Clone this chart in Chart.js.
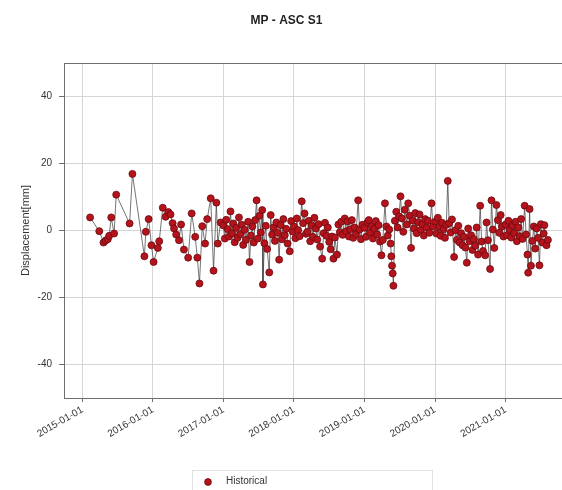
<!DOCTYPE html>
<html>
<head>
<meta charset="utf-8">
<script src="https://cdn.jsdelivr.net/npm/chart.js@4/dist/chart.umd.min.js"></script>
<style>
    html, body { margin: 0; padding: 0; background: #fff; overflow: hidden; }
    #wrap { width: 562px; height: 490px; overflow: hidden; }
</style>
</head>
<body>
<div id="wrap"><canvas id="mp-chart" width="576" height="490"></canvas></div>
<script>
// acquisition time as decimal year, displacement in mm
var t2015 = [2015.11, 2015.24, 2015.30, 2015.33, 2015.36, 2015.38, 2015.41, 2015.45, 2015.48, 2015.67, 2015.71, 2015.88, 2015.90, 2015.94, 2015.98];
var v2015 = [3.9, -0.2, -3.6, -3.0, -2.6, -1.6, 3.9, -0.9, 10.7, 2.1, 16.9, -7.7, -0.4, 3.4, -4.4];

var t2016 = [2016.01, 2016.07, 2016.09, 2016.14, 2016.18, 2016.22, 2016.25, 2016.28, 2016.30, 2016.33,
             2016.37, 2016.40, 2016.44, 2016.50, 2016.55, 2016.60, 2016.63, 2016.66, 2016.70, 2016.74,
             2016.77, 2016.82, 2016.86, 2016.90, 2016.92, 2016.96];
var v2016 = [-9.4, -5.2, -3.2, 6.8, 4.1, 5.5, 4.8, 2.2, 0.6, -1.2,
             -2.9, 1.8, -5.7, -8.1, 5.1, -1.9, -8.1, -15.8, 1.3, -3.9,
             3.4, 9.6, -12.0, 8.3, -3.9, 2.4];

var t2017 = [2017.00, 2017.02, 2017.04, 2017.06, 2017.08, 2017.10, 2017.12, 2017.14, 2017.16, 2017.18,
             2017.20, 2017.22, 2017.24, 2017.26, 2017.28, 2017.30, 2017.32, 2017.35, 2017.37, 2017.39,
             2017.41, 2017.43, 2017.45, 2017.47, 2017.49, 2017.51, 2017.53, 2017.55, 2017.56, 2017.58,
             2017.60, 2017.62, 2017.65, 2017.67, 2017.69, 2017.71, 2017.73, 2017.75, 2017.77, 2017.79,
             2017.81, 2017.83, 2017.85, 2017.87, 2017.89, 2017.91, 2017.94, 2017.96, 2017.98];
var v2017 = [1.5, -2.4, 3.2, 0.4, -1.8, 5.7, -0.9, 2.1, -3.5, 0.8,
             -2.2, 3.9, -1.1, 1.7, -4.3, 0.2, -2.8, 2.6, -9.4, -1.5,
             1.2, -3.6, 3.1, 9.0, -2.4, 4.4, -0.6, 6.1, -16.1, -3.8,
             1.4, -5.5, -12.5, 4.6, -1.2, 0.9, -3.1, 2.4, -0.7, -8.7,
             1.6, -2.6, 3.4, -1.4, 0.5, -3.9, -6.2, 2.8, -0.3];

var t2018 = [2018.00, 2018.02, 2018.04, 2018.06, 2018.08, 2018.11, 2018.13, 2018.15, 2018.17, 2018.19,
             2018.21, 2018.23, 2018.25, 2018.27, 2018.29, 2018.31, 2018.33, 2018.35, 2018.37, 2018.40,
             2018.42, 2018.44, 2018.46, 2018.48, 2018.50, 2018.52, 2018.54, 2018.56, 2018.58, 2018.61,
             2018.63, 2018.65, 2018.67, 2018.69, 2018.72, 2018.74, 2018.76, 2018.78, 2018.80, 2018.82,
             2018.84, 2018.86, 2018.88, 2018.91, 2018.93, 2018.95, 2018.97];
var v2018 = [1.2, -2.3, 3.6, 0.1, -1.7, 8.7, 2.2, 5.1, -1.0, -0.4,
             2.9, -3.2, 1.5, -1.9, 3.8, 0.6, -2.7, 1.9, -4.8, -8.4,
             -0.8, 2.3, -1.6, 0.9, -3.4, -5.6, -1.8, -8.4, -2.1, -7.2,
             1.8, -0.5, 2.6, -1.3, 3.6, -0.2, 2.7, -1.8, 0.4, 3.1,
             -2.2, 0.9, -1.1, 9.0, 0.3, -2.6, 1.7];

var t2019 = [2019.00, 2019.02, 2019.04, 2019.06, 2019.08, 2019.10, 2019.12, 2019.14, 2019.16, 2019.18,
             2019.20, 2019.22, 2019.24, 2019.26, 2019.29, 2019.31, 2019.33, 2019.35, 2019.37, 2019.38,
             2019.39, 2019.40, 2019.41, 2019.43, 2019.45, 2019.47, 2019.49, 2019.51, 2019.53, 2019.55,
             2019.57, 2019.60, 2019.62, 2019.64, 2019.66, 2019.68, 2019.70, 2019.72, 2019.74, 2019.76,
             2019.78, 2019.80, 2019.82, 2019.84, 2019.86, 2019.88, 2019.90, 2019.92, 2019.95, 2019.97];
var v2019 = [0.8, -1.9, 2.4, 3.1, -0.6, 1.3, -2.4, 0.5, 2.8, -1.2,
             1.6, -3.3, -7.4, -2.8, 8.1, 1.2, -1.5, 0.3, -3.9, -7.7,
             -10.5, -12.8, -16.5, 2.9, 5.6, 0.9, 4.2, 10.2, 3.6, -0.4,
             6.2, 1.8, 8.1, 4.4, -5.2, 3.0, 0.6, 5.2, -0.8, 2.5,
             4.8, 0.2, 1.9, -1.5, 3.4, 0.8, 2.9, -0.7, 8.1, 1.2];

var t2020 = [2020.00, 2020.02, 2020.04, 2020.06, 2020.08, 2020.10, 2020.12, 2020.14, 2020.16, 2020.18,
             2020.20, 2020.22, 2020.24, 2020.27, 2020.29, 2020.31, 2020.33, 2020.35, 2020.37, 2020.39,
             2020.41, 2020.43, 2020.45, 2020.47, 2020.49, 2020.51, 2020.53, 2020.55, 2020.57, 2020.59,
             2020.61, 2020.64, 2020.66, 2020.68, 2020.71, 2020.73, 2020.75, 2020.78, 2020.80, 2020.82,
             2020.84, 2020.87, 2020.89, 2020.91, 2020.93, 2020.95, 2020.97];
var v2020 = [2.6, -0.9, 3.8, 1.1, -1.6, 2.3, 0.4, -2.2, 1.7, 14.8,
             2.2, -0.6, 3.3, -7.9, 0.1, -2.8, 1.4, -3.6, -0.8, -4.4,
             -1.9, -5.1, -9.6, 0.6, -3.2, -1.4, -5.8, -2.6, -4.5, 0.9,
             -7.2, 7.4, -3.3, -6.1, -7.4, 2.4, -2.9, -11.5, 9.0, 0.3,
             -5.2, 7.6, 3.1, -0.7, 4.6, 1.2, -1.8];

var t2021 = [2021.00, 2021.02, 2021.04, 2021.06, 2021.08, 2021.10, 2021.12, 2021.14, 2021.16, 2021.18,
             2021.20, 2021.22, 2021.24, 2021.27, 2021.29, 2021.31, 2021.32, 2021.34, 2021.36, 2021.38,
             2021.40, 2021.42, 2021.44, 2021.46, 2021.48, 2021.50, 2021.52, 2021.54, 2021.55, 2021.58,
             2021.60];
var v2021 = [1.8, -1.4, 2.9, 0.2, -2.1, 1.4, -0.8, 2.6, -3.2, 0.9,
             -1.7, 3.4, -2.5, 7.4, -1.2, -7.2, -12.6, 6.4, -10.5, -3.1,
             1.2, -5.4, 0.6, -2.2, -10.4, 1.9, -3.6, -0.9, 1.6, -4.4,
             -2.8];

var xTickYears = [2015, 2016, 2017, 2018, 2019, 2020, 2021];
var xTickLabels = ['2015-01-01', '2016-01-01', '2017-01-01', '2018-01-01', '2019-01-01', '2020-01-01', '2021-01-01'];
var yTicks = [-40, -20, 0, 20, 40];

(function () {
    var font = "'Liberation Sans', Arial, sans-serif";
    var textColor = '#333333';
    var gridColor = '#d6d6d6';
    var spineColor = '#6f6f6f';

    var times = [].concat(t2015, t2016, t2017, t2018, t2019, t2020, t2021);
    var values = [].concat(v2015, v2016, v2017, v2018, v2019, v2020, v2021);
    var points = times.map(function (t, i) {
        return { x: t, y: values[i] };
    });

    // top/right spines like a matplotlib frame
    var frame = {
        id: 'frame',
        afterDatasetsDraw: function (chart) {
            var a = chart.chartArea;
            var ctx = chart.ctx;
            ctx.save();
            ctx.strokeStyle = spineColor;
            ctx.lineWidth = 1;
            ctx.strokeRect(a.left + 0.5, a.top + 0.5, a.right - a.left, a.bottom - a.top);
            ctx.restore();
        }
    };

    // boxed legend below the axes
    var legendBox = {
        id: 'legendBox',
        afterDraw: function (chart) {
            var ctx = chart.ctx;
            var a = chart.chartArea;
            var ds = chart.data.datasets[0];
            var x0 = a.left + 128;
            var y0 = chart.height - 20;
            ctx.save();
            ctx.fillStyle = '#ffffff';
            ctx.strokeStyle = '#e2e2e2';
            ctx.lineWidth = 1;
            ctx.fillRect(x0, y0, 240, 30);
            ctx.strokeRect(x0 + 0.5, y0 + 0.5, 240, 30);
            ctx.beginPath();
            ctx.arc(x0 + 16, y0 + 12, 3.4, 0, Math.PI * 2);
            ctx.fillStyle = ds.pointBackgroundColor;
            ctx.fill();
            ctx.lineWidth = 0.8;
            ctx.strokeStyle = ds.pointBorderColor;
            ctx.stroke();
            ctx.fillStyle = textColor;
            ctx.font = '10px ' + font;
            ctx.textBaseline = 'middle';
            ctx.fillText(ds.label, x0 + 34, y0 + 11);
            ctx.restore();
        }
    };

    var ctx = document.getElementById('mp-chart').getContext('2d');
    new Chart(ctx, {
        type: 'line',
        data: {
            datasets: [{
                label: 'Historical',
                data: points,
                borderColor: '#3a3a3a',
                borderWidth: 0.7,
                pointRadius: 3.5,
                pointBackgroundColor: '#b5131c',
                pointBorderColor: '#6a0a0f',
                pointBorderWidth: 0.8,
                tension: 0
            }]
        },
        plugins: [frame, legendBox],
        options: {
            responsive: false,
            animation: false,
            layout: { padding: { left: 0, right: 3, top: 0, bottom: 24 } },
            plugins: {
                legend: { display: false },
                tooltip: { enabled: false },
                title: {
                    display: true,
                    text: 'MP - ASC S1',
                    color: '#222222',
                    font: { family: font, size: 12, weight: 'bold' },
                    padding: { top: 13, bottom: 35.6 }
                }
            },
            scales: {
                x: {
                    type: 'linear',
                    min: 2014.74,
                    max: 2021.93,
                    afterBuildTicks: function (scale) {
                        scale.ticks = xTickYears.map(function (v) { return { value: v }; });
                    },
                    afterFit: function (scale) { scale.height = 68; },
                    ticks: {
                        autoSkip: false,
                        minRotation: 30,
                        maxRotation: 30,
                        padding: 2,
                        color: textColor,
                        font: { family: font, size: 10 },
                        callback: function (value, index) { return xTickLabels[index]; }
                    },
                    grid: { color: gridColor, tickColor: spineColor, tickLength: 4 },
                    border: { color: spineColor, width: 1 }
                },
                y: {
                    min: -50,
                    max: 50,
                    afterBuildTicks: function (scale) {
                        scale.ticks = yTicks.map(function (v) { return { value: v }; });
                    },
                    afterFit: function (scale) { scale.width = 64; },
                    ticks: {
                        padding: 7,
                        color: textColor,
                        font: { family: font, size: 10 }
                    },
                    grid: { color: gridColor, tickColor: spineColor, tickLength: 5 },
                    border: { color: spineColor, width: 1 },
                    title: {
                        display: true,
                        text: 'Displacement[mm]',
                        color: textColor,
                        font: { family: font, size: 11 },
                        padding: { top: 19, bottom: 0 }
                    }
                }
            }
        }
    });
})();
</script>
</body>
</html>
